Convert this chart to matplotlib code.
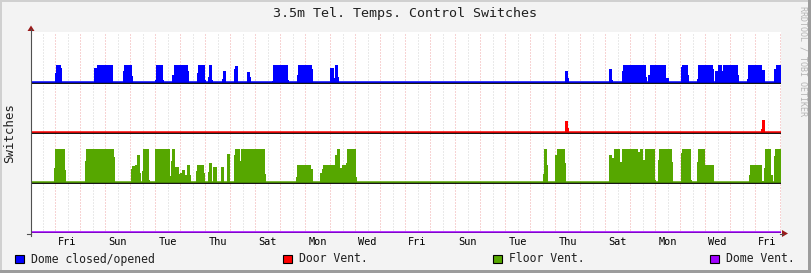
import numpy as np
import matplotlib
matplotlib.use('Agg')
import matplotlib.pyplot as plt
from matplotlib.patches import Rectangle, Polygon

plt.rcParams['font.family'] = 'DejaVu Sans Mono'

# time axis in days from the left edge of the graph (30 days shown)
t_min, t_max = 0.0, 30.0
day_names = ['Fri', 'Sun', 'Tue', 'Thu', 'Sat', 'Mon', 'Wed',
             'Fri', 'Sun', 'Tue', 'Thu', 'Sat', 'Mon', 'Wed', 'Fri']
first_label = 1.46     # noon of the first labelled day
first_midnight = 0.96

# (start day, end day, value) segments
dome = [(0.96, 1.01, 0.19), (1.01, 1.20, 0.35), (1.20, 1.24, 0.29),
        (2.52, 2.64, 0.29), (2.64, 3.27, 0.35),
        (3.68, 3.73, 0.23), (3.73, 4.03, 0.35), (4.03, 4.08, 0.13),
        (4.97, 5.00, 0.06), (5.00, 5.27, 0.35), (5.27, 5.32, 0.06),
        (5.64, 5.71, 0.15), (5.71, 6.28, 0.35), (6.28, 6.32, 0.23),
        (6.64, 6.69, 0.19), (6.69, 6.96, 0.35), (6.96, 7.00, 0.06),
        (7.08, 7.13, 0.12), (7.13, 7.24, 0.35), (7.24, 7.27, 0.06),
        (7.64, 7.69, 0.08), (7.69, 7.79, 0.23),
        (8.12, 8.17, 0.27), (8.17, 8.27, 0.33),
        (8.64, 8.75, 0.21), (8.75, 8.79, 0.11),
        (9.64, 9.68, 0.03), (9.68, 10.27, 0.35), (10.27, 10.31, 0.06),
        (10.64, 10.68, 0.15), (10.68, 11.23, 0.35), (11.23, 11.27, 0.27),
        (11.96, 12.12, 0.30), (12.12, 12.16, 0.10), (12.16, 12.27, 0.35), (12.27, 12.31, 0.11),
        (21.36, 21.47, 0.23), (21.47, 21.51, 0.09),
        (23.12, 23.23, 0.27), (23.23, 23.27, 0.05),
        (23.64, 23.69, 0.23), (23.69, 24.59, 0.35), (24.59, 24.64, 0.11),
        (24.69, 24.76, 0.15), (24.76, 25.40, 0.35), (25.40, 25.51, 0.09),
        (26.00, 26.05, 0.31), (26.05, 26.27, 0.35), (26.27, 26.32, 0.15),
        (26.64, 26.69, 0.07), (26.69, 27.27, 0.35), (27.27, 27.32, 0.28),
        (27.37, 27.48, 0.23), (27.48, 27.64, 0.35), (27.64, 27.69, 0.23),
        (27.69, 28.28, 0.35), (28.28, 28.32, 0.15),
        (28.64, 28.69, 0.07), (28.69, 29.25, 0.35), (29.25, 29.35, 0.25),
        (29.73, 29.79, 0.27), (29.79, 30.00, 0.35)]

door = [(21.36, 21.47, 0.23), (21.47, 21.51, 0.10),
        (29.20, 29.25, 0.07), (29.25, 29.35, 0.25)]

floor = [(0.92, 0.97, 0.29), (0.97, 1.36, 0.67), (1.36, 1.40, 0.25),
         (2.16, 2.21, 0.43), (2.21, 3.31, 0.67), (3.31, 3.36, 0.51),
         (4.00, 4.05, 0.27), (4.05, 4.16, 0.33), (4.16, 4.24, 0.35),
         (4.24, 4.36, 0.55), (4.36, 4.40, 0.19),
         (4.44, 4.49, 0.23), (4.49, 4.71, 0.67), (4.71, 4.76, 0.05),
         (4.96, 5.56, 0.67), (5.56, 5.60, 0.14), (5.60, 5.65, 0.43),
         (5.65, 5.75, 0.67), (5.75, 5.79, 0.32), (5.79, 5.92, 0.31),
         (5.92, 5.96, 0.17), (5.96, 6.04, 0.19), (6.04, 6.16, 0.25),
         (6.16, 6.24, 0.15), (6.24, 6.36, 0.35), (6.36, 6.40, 0.15),
         (6.60, 6.64, 0.23), (6.64, 6.92, 0.35), (6.92, 6.97, 0.19),
         (7.08, 7.12, 0.22), (7.12, 7.24, 0.39),
         (7.28, 7.44, 0.31), (7.60, 7.72, 0.31), (7.84, 7.96, 0.57),
         (8.12, 8.17, 0.55), (8.17, 8.36, 0.67), (8.36, 8.41, 0.43),
         (8.41, 9.35, 0.67), (9.35, 9.40, 0.17),
         (10.60, 10.65, 0.11), (10.65, 11.21, 0.35), (11.21, 11.28, 0.27),
         (11.56, 11.64, 0.19), (11.64, 11.69, 0.27), (11.69, 12.17, 0.35),
         (12.17, 12.24, 0.55), (12.24, 12.36, 0.67), (12.36, 12.45, 0.29),
         (12.45, 12.60, 0.35), (12.60, 12.65, 0.39), (12.65, 13.00, 0.67),
         (13.00, 13.04, 0.11),
         (20.48, 20.52, 0.17), (20.52, 20.63, 0.67), (20.63, 20.68, 0.35),
         (20.96, 21.04, 0.55), (21.04, 21.36, 0.67), (21.36, 21.40, 0.39),
         (23.12, 23.23, 0.55), (23.23, 23.32, 0.49), (23.32, 23.55, 0.67),
         (23.55, 23.64, 0.41), (23.64, 24.29, 0.67), (24.29, 24.35, 0.62),
         (24.35, 24.48, 0.67), (24.48, 24.56, 0.46), (24.56, 24.95, 0.67),
         (24.95, 25.00, 0.05),
         (25.07, 25.13, 0.45), (25.13, 25.63, 0.67), (25.63, 25.68, 0.41),
         (26.00, 26.04, 0.59), (26.04, 26.40, 0.67), (26.40, 26.44, 0.05),
         (26.64, 26.69, 0.41), (26.69, 26.97, 0.67), (26.97, 27.31, 0.35),
         (28.72, 28.76, 0.15), (28.76, 29.23, 0.35), (29.23, 29.32, 0.03),
         (29.32, 29.37, 0.29), (29.37, 29.60, 0.67), (29.60, 29.67, 0.15),
         (29.72, 29.76, 0.53), (29.76, 30.00, 0.67)]

dome_vent = []

series = [('Dome closed/opened', dome, 3, '#0000FF'),
          ('Door Vent.', door, 2, '#FF0000'),
          ('Floor Vent.', floor, 1, '#56A700'),
          ('Dome Vent.', dome_vent, 0, '#A000FF')]


def steps(segs):
    xs, ys = [], []
    for s, e, v in segs:
        xs += [s, s, e, e]
        ys += [0, v, v, 0]
    return np.array(xs), np.array(ys)


W, H = 811, 273
fig = plt.figure(figsize=(W / 100, H / 100), dpi=100)
fig.patch.set_facecolor('#F3F3F3')

# plot area in pixels
x0, x1, y_top, y_bot = 31, 781, 32, 233
ax = fig.add_axes([x0 / W, 1 - y_bot / H, (x1 - x0) / W, (y_bot - y_top) / H])
ax.set_facecolor('white')
ax.set_xlim(t_min, t_max)
ax.set_ylim(0, 4.02)
for s in ax.spines.values():
    s.set_visible(False)
ax.set_yticks([])

# grid: every 12 h, red at midnight
g = first_midnight - 0.5
while g < t_max:
    major = abs((g - first_midnight) - round(g - first_midnight)) < 1e-6
    ax.axvline(g, color='#F0A8A8' if major else '#D4D4D4', lw=0.72,
               ls=(0, (1, 2)), zorder=1)
    g += 0.5

for name, segs, base, col in series:
    if segs:
        xs, ys = steps(segs)
        ax.fill_between(xs, base, base + ys, color=col, lw=0, zorder=2)
    ax.axhline(base - 0.008, color='black', lw=1.3, zorder=3)
    ax.axhline(base + 0.014, color=col, lw=1.1, zorder=4)

ax.set_xticks([first_label + 2 * i for i in range(len(day_names))])
ax.set_xticklabels(day_names, fontsize=7.4)
ax.tick_params(axis='x', length=0, pad=3)

# overlay in pixel coordinates for frame, axes arrows, title and legend
ov = fig.add_axes([0, 0, 1, 1])
ov.set_xlim(0, W)
ov.set_ylim(H, 0)
ov.axis('off')
ov.patch.set_alpha(0)

ov.add_patch(Rectangle((0, 0), W, 2, color='#D0D0D0', lw=0))
ov.add_patch(Rectangle((0, 0), 2, H, color='#D0D0D0', lw=0))
ov.add_patch(Rectangle((0, H - 3), W, 3, color='#9C9C9C', lw=0))
ov.add_patch(Rectangle((W - 3, 0), 3, H, color='#9C9C9C', lw=0))

ov.plot([31, 31], [29, 236], color='#505050', lw=0.8, zorder=5)
ov.plot([27, 31], [233.5, 233.5], color='#505050', lw=0.8, zorder=5)
ov.plot([780, 783], [233.5, 233.5], color='#505050', lw=0.8, zorder=5)
ov.add_patch(Polygon([[27.5, 31], [34.5, 31], [31, 25.5]], closed=True, color='#9A1A1A', lw=0))
ov.add_patch(Polygon([[782, 230], [782, 237], [788, 233.5]], closed=True, color='#9A1A1A', lw=0))

ov.text(405, 14, '3.5m Tel. Temps. Control Switches', fontsize=9.6,
        ha='center', va='center', color='#202020')
ov.text(10, 133, 'Switches', fontsize=8.9, rotation=90, ha='center', va='center',
        color='#202020')
ov.text(803, 6, 'RRDTOOL / TOBI OETIKER', fontsize=6, rotation=270,
        ha='center', va='top', color='#B4B4B4')

legend_x = [15, 283, 493, 710]
for (name, segs, base, col), lx in zip(series, legend_x):
    ov.add_patch(Rectangle((lx, 254.5), 8.5, 8.5, facecolor=col, edgecolor='black', lw=0.8))
    ov.text(lx + 16, 259, name, fontsize=8.3, va='center', ha='left', color='#202020')

fig.savefig('out.png', dpi=100, facecolor=fig.get_facecolor())
